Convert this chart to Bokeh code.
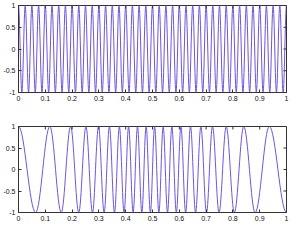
from bokeh.plotting import figure
from bokeh.models import Range1d, FixedTicker, ColumnDataSource
from bokeh.layouts import column
from bokeh.embed import file_html
from bokeh.resources import INLINE

# ---- data ----
X_TICKS = [0, 0.1, 0.2, 0.3, 0.4, 0.5, 0.6, 0.7, 0.8, 0.9, 1.0]
X_TICK_LABELS = ["0", "0.1", "0.2", "0.3", "0.4", "0.5", "0.6", "0.7", "0.8", "0.9", "1"]
Y_TICKS = [-1.0, -0.5, 0.0, 0.5, 1.0]
Y_TICK_LABELS = ["-1", "-0.5", "0", "0.5", "1"]

AMPLITUDE = 1.0

# top panel: steady oscillation, extremum times
top_peaks = [0.0, 0.025, 0.05, 0.075, 0.1, 0.125, 0.15, 0.175, 0.2, 0.225,
             0.25, 0.275, 0.3, 0.325, 0.35, 0.375, 0.4, 0.425, 0.45, 0.475,
             0.5, 0.525, 0.55, 0.575, 0.6, 0.625, 0.65, 0.675, 0.7, 0.725,
             0.75, 0.775, 0.8, 0.825, 0.85, 0.875, 0.9, 0.925, 0.95, 0.975, 1.0]
top_troughs = [0.0125, 0.0375, 0.0625, 0.0875, 0.1125, 0.1375, 0.1625, 0.1875,
               0.2125, 0.2375, 0.2625, 0.2875, 0.3125, 0.3375, 0.3625, 0.3875,
               0.4125, 0.4375, 0.4625, 0.4875, 0.5125, 0.5375, 0.5625, 0.5875,
               0.6125, 0.6375, 0.6625, 0.6875, 0.7125, 0.7375, 0.7625, 0.7875,
               0.8125, 0.8375, 0.8625, 0.8875, 0.9125, 0.9375, 0.9625, 0.9875]

# bottom panel: chirp, extremum times
bottom_peaks = [0.0, 0.117, 0.1946, 0.2518, 0.2986, 0.3393, 0.3764, 0.411, 0.444,
                0.4762, 0.5079, 0.5398, 0.5723, 0.6061, 0.6418, 0.6805, 0.7239,
                0.7751, 0.8405, 0.936]
bottom_troughs = [0.064, 0.1595, 0.2249, 0.2761, 0.3195, 0.3582, 0.3939, 0.4277,
                  0.4602, 0.4921, 0.5238, 0.556, 0.589, 0.6236, 0.6607, 0.7014,
                  0.7482, 0.8054, 0.883, 1.0]

LINE_COLOR = "#6f55d8"
AXIS_COLOR = "#333333"
FONT = "Liberation Sans"
K = 0.3634  # bezier handle fraction giving a half-cosine shape
TICK_LEN = 3


def wave_source(peaks, troughs):
    pts = sorted([(t, AMPLITUDE) for t in peaks] + [(t, -AMPLITUDE) for t in troughs])
    x0, y0, x1, y1, cx0, cy0, cx1, cy1 = [], [], [], [], [], [], [], []
    for (ta, ya), (tb, yb) in zip(pts[:-1], pts[1:]):
        d = tb - ta
        x0.append(ta); y0.append(ya); x1.append(tb); y1.append(yb)
        cx0.append(ta + K * d); cy0.append(ya)
        cx1.append(tb - K * d); cy1.append(yb)
    return ColumnDataSource(dict(x0=x0, y0=y0, x1=x1, y1=y1,
                                 cx0=cx0, cy0=cy0, cx1=cx1, cy1=cy1))


def style_axis(ax, ticks, labels):
    ax.ticker = FixedTicker(ticks=ticks)
    ax.major_label_overrides = {float(t): l for t, l in zip(ticks, labels)}
    ax.axis_line_color = AXIS_COLOR
    ax.axis_line_width = 1
    ax.major_tick_line_color = AXIS_COLOR
    ax.major_tick_in = TICK_LEN
    ax.major_tick_out = 0
    ax.minor_tick_line_color = None
    ax.major_label_text_font = FONT
    ax.major_label_text_color = "#111111"
    ax.major_label_text_font_size = "7px"
    ax.major_label_standoff = 3


def make_panel(src, height, top, bottom):
    p = figure(width=290, height=height, output_backend="svg", toolbar_location=None,
               x_range=Range1d(0, 1), y_range=Range1d(-1, 1),
               min_border_left=15, min_border_right=4,
               min_border_top=top, min_border_bottom=bottom)
    p.grid.visible = False
    p.outline_line_color = AXIS_COLOR
    p.outline_line_width = 1
    p.background_fill_color = "white"
    p.border_fill_color = "white"
    style_axis(p.xaxis[0], X_TICKS, X_TICK_LABELS)
    style_axis(p.yaxis[0], Y_TICKS, Y_TICK_LABELS)
    p.bezier(x0="x0", y0="y0", x1="x1", y1="y1", cx0="cx0", cy0="cy0",
             cx1="cx1", cy1="cy1", source=src, line_color=LINE_COLOR, line_width=1)
    # mirrored tick marks on the top and right edges of the box
    p.ray(x=X_TICKS, y=[Y_TICKS[-1]] * len(X_TICKS), length=TICK_LEN,
          length_units="screen", angle=-90, angle_units="deg",
          line_color=AXIS_COLOR, line_width=1)
    p.ray(x=[X_TICKS[-1]] * len(Y_TICKS), y=Y_TICKS, length=TICK_LEN,
          length_units="screen", angle=180, angle_units="deg",
          line_color=AXIS_COLOR, line_width=1)
    return p


p1 = make_panel(wave_source(top_peaks, top_troughs), 114, 5, 22)
p2 = make_panel(wave_source(bottom_peaks, bottom_troughs), 111, 12, 13)

p = column(p1, p2, spacing=0)
open("out.html", "w").write(file_html(p, INLINE))
